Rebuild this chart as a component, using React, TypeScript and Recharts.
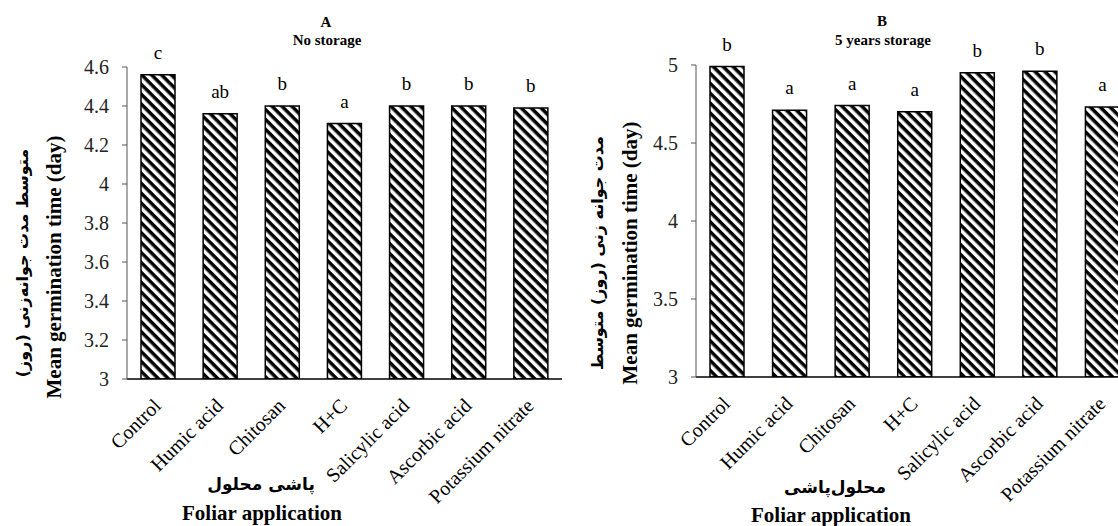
import React from 'react';
import { BarChart, Bar, XAxis, YAxis, LabelList } from 'recharts';

const categories = ['Control', 'Humic acid', 'Chitosan', 'H+C', 'Salicylic acid', 'Ascorbic acid', 'Potassium nitrate'];
const noStorageValues = [4.56, 4.36, 4.4, 4.31, 4.4, 4.4, 4.39];
const noStorageLetters = ['c', 'ab', 'b', 'a', 'b', 'b', 'b'];
const fiveYearsValues = [4.99, 4.71, 4.74, 4.7, 4.95, 4.96, 4.73];
const fiveYearsLetters = ['b', 'a', 'a', 'a', 'b', 'b', 'a'];
const ticksA = [3, 3.2, 3.4, 3.6, 3.8, 4, 4.2, 4.4, 4.6];
const ticksB = [3, 3.5, 4, 4.5, 5];

const dataA = categories.map((c, i) => ({ name: c, value: noStorageValues[i], letter: noStorageLetters[i] }));
const dataB = categories.map((c, i) => ({ name: c, value: fiveYearsValues[i], letter: fiveYearsLetters[i] }));

const SERIF = "'Liberation Serif', 'Times New Roman', serif";
const PERSIAN = "'DejaVu Sans', 'Noto Sans', sans-serif";

const fmt = (v: number) => String(Number(v.toFixed(1)));

const XTick = (props: any) => {
  const { x, y, payload } = props;
  return (
    <g transform={`translate(${x + 4},${y + 20})`}>
      <text transform="rotate(-45)" textAnchor="end" style={{ fontFamily: SERIF, fontSize: 20 }} fill="#000">
        {payload.value}
      </text>
    </g>
  );
};

const YTick = (props: any) => {
  const { x, y, payload } = props;
  return (
    <text x={x} y={y} dy={6.5} textAnchor="end" style={{ fontFamily: SERIF, fontSize: 20 }} fill="#222">
      {fmt(payload.value)}
    </text>
  );
};

const LetterLabel = (props: any) => {
  const { x, y, width, value } = props;
  return (
    <text x={x + width / 2} y={y - 16} textAnchor="middle" style={{ fontFamily: SERIF, fontSize: 19 }} fill="#000">
      {value}
    </text>
  );
};

const Panel = (p: { data: any[]; ticks: number[]; domain: [number, number]; top: number; right: number; yw: number; xh: number }) => (
  <BarChart width={600} height={526} data={p.data} margin={{ top: p.top, right: p.right, left: 0, bottom: 0 }}>
    <XAxis
      dataKey="name"
      height={p.xh}
      axisLine={{ stroke: '#000', strokeWidth: 1.5 }}
      tickLine={false}
      tick={<XTick />}
      interval={0}
    />
    <YAxis
      width={p.yw}
      domain={p.domain}
      ticks={p.ticks}
      allowDataOverflow
      axisLine={{ stroke: '#555', strokeWidth: 1 }}
      tickLine={{ stroke: '#555', strokeWidth: 1 }}
      tickSize={5}
      tickMargin={13}
      tick={<YTick />}
    />
    <Bar dataKey="value" barSize={34} fill="url(#hatch)" stroke="#000" strokeWidth={1.5} isAnimationActive={false}>
      <LabelList dataKey="letter" content={<LetterLabel />} />
    </Bar>
  </BarChart>
);

export default function App() {
  const en = { fontFamily: SERIF, fontWeight: 700 } as const;
  const fa = { fontFamily: PERSIAN, fontWeight: 700 } as const;
  return (
    <div style={{ position: 'absolute', left: 0, top: 0, width: 1118, height: 526, overflow: 'hidden', background: '#fff' }}>
      <svg width={0} height={0} style={{ position: 'absolute' }}>
        <defs>
          <pattern id="hatch" patternUnits="userSpaceOnUse" width={7} height={7} patternTransform="rotate(45)">
            <rect x={0} y={0} width={7} height={7} fill="#fff" />
            <rect x={0} y={0} width={7} height={3.5} fill="#000" />
          </pattern>
        </defs>
      </svg>
      <div style={{ position: 'absolute', left: 0, top: 0 }}>
        <Panel data={dataA} ticks={ticksA} domain={[3, 4.6]} top={67} right={38} yw={127} xh={147} />
      </div>
      <div style={{ position: 'absolute', left: 560, top: 0 }}>
        <Panel data={dataB} ticks={ticksB} domain={[3, 5]} top={65} right={26} yw={136} xh={149} />
      </div>
      <svg width={1118} height={526} style={{ position: 'absolute', left: 0, top: 0, pointerEvents: 'none' }}>
        <g fill="#000" textAnchor="middle">
          <text x={326} y={27} style={{ ...en, fontSize: 15 }}>A</text>
          <text x={327} y={45} style={{ ...en, fontSize: 15 }}>No storage</text>
          <text x={882} y={26} style={{ ...en, fontSize: 15 }}>B</text>
          <text x={883} y={45} style={{ ...en, fontSize: 15 }}>5 years storage</text>
          <text x={262} y={520} style={{ ...en, fontSize: 21 }}>Foliar application</text>
          <text x={831} y={522} style={{ ...en, fontSize: 21 }}>Foliar application</text>
          <text transform="translate(61,267) rotate(-90)" style={{ ...en, fontSize: 21 }}>Mean germination time (day)</text>
          <text transform="translate(637,253) rotate(-90)" style={{ ...en, fontSize: 21 }}>Mean germination time (day)</text>
        </g>
        <g fill="#000" textAnchor="middle">
          <text x={261} y={490} direction="rtl" style={{ ...fa, fontSize: 17 }}>پاشی محلول</text>
          <text x={835} y={493} direction="rtl" style={{ ...fa, fontSize: 17 }}>محلول‌پاشی</text>
          <text transform="translate(28,263) rotate(-90)" direction="rtl" style={{ ...fa, fontSize: 16 }}>متوسط مدت جوانه‌زنی (روز)</text>
          <text transform="translate(603,253) rotate(-90)" direction="rtl" style={{ ...fa, fontSize: 16 }}>مدت جوانه زنی (روز) متوسط</text>
        </g>
      </svg>
    </div>
  );
}
